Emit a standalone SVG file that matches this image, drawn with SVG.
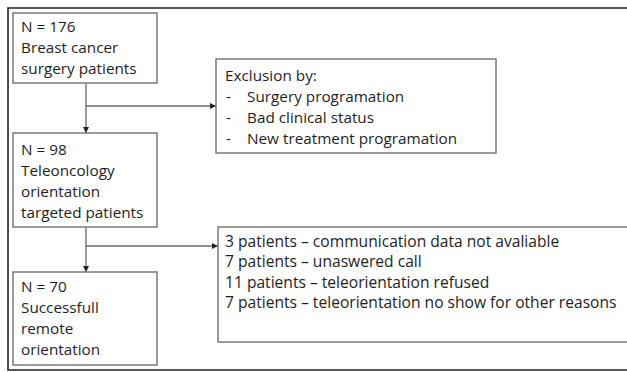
<svg xmlns="http://www.w3.org/2000/svg" width="627" height="372" viewBox="0 0 627 372">
<defs>
<style>
.box{fill:#fff;stroke:#7a7a7a;stroke-width:1.5}
.t{font-family:"Open Sans","Liberation Sans",Arial,sans-serif;font-size:15.3px;font-weight:500;fill:#1e1e1e}
.w{font-size:15.6px}
.c{fill:none;stroke:#6a6a6a;stroke-width:1.3}
</style>
<marker id="ah" viewBox="0 0 10 10" refX="10" refY="5" markerWidth="6" markerHeight="6" orient="auto" markerUnits="userSpaceOnUse">
<path d="M0,0 L10,5 L0,10 z" fill="#222"/>
</marker>
</defs>
<rect width="627" height="372" fill="#fff"/>
<path d="M640,8 H8 V370 H640" fill="none" stroke="#222" stroke-width="1.6"/>
<g id="connectors">
<path class="c" d="M86,83 V133" marker-end="url(#ah)"/>
<path class="c" d="M86,106 H216" marker-end="url(#ah)"/>
<path class="c" d="M86,227 V272" marker-end="url(#ah)"/>
<path class="c" d="M86,246 H218" marker-end="url(#ah)"/>
</g>
<g id="n176">
<rect class="box" x="13" y="13" width="144" height="70"/>
<text class="t" x="21" y="32">N = 176</text>
<text class="t" x="21" y="53">Breast cancer</text>
<text class="t" x="21" y="74">surgery patients</text>
</g>
<g id="exclusion">
<rect class="box" x="216" y="59" width="280" height="94"/>
<text class="t" x="225" y="81">Exclusion by:</text>
<text class="t" x="226" y="102">-</text><text class="t" x="247" y="102">Surgery programation</text>
<text class="t" x="226" y="123">-</text><text class="t" x="247" y="123">Bad clinical status</text>
<text class="t" x="226" y="144">-</text><text class="t" x="247" y="144">New treatment programation</text>
</g>
<g id="n98">
<rect class="box" x="13" y="133" width="144" height="94"/>
<text class="t" x="21" y="155">N = 98</text>
<text class="t" x="21" y="176">Teleoncology</text>
<text class="t" x="21" y="197">orientation</text>
<text class="t" x="21" y="218">targeted patients</text>
</g>
<g id="dropouts">
<rect class="box" x="218" y="227" width="430" height="115"/>
<text class="t w" x="225" y="247">3 patients – communication data not avaliable</text>
<text class="t w" x="225" y="267">7 patients – unaswered call</text>
<text class="t w" x="225" y="288">11 patients – teleorientation refused</text>
<text class="t w" x="225" y="308">7 patients – teleorientation no show for other reasons</text>
</g>
<g id="n70">
<rect class="box" x="13" y="272" width="144" height="93"/>
<text class="t" x="21" y="292">N = 70</text>
<text class="t" x="21" y="313">Successfull</text>
<text class="t" x="21" y="334">remote</text>
<text class="t" x="21" y="355">orientation</text>
</g>
</svg>
